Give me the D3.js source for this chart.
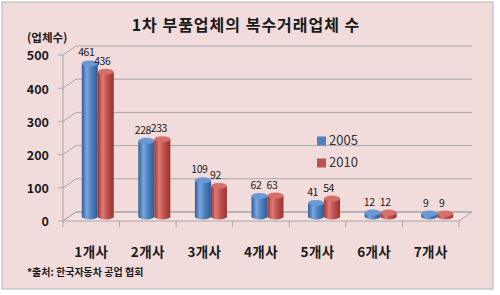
<!DOCTYPE html>
<html><head><meta charset="utf-8">
<script src="https://cdn.jsdelivr.net/npm/d3@7"></script>
<style>html,body{margin:0;padding:0;background:#fff}</style>
</head><body>
<svg id="c" width="500" height="295"></svg>
<script>
const categories = ["1개사","2개사","3개사","4개사","5개사","6개사","7개사"];
const series = ["2005","2010"];
const values2005 = [461,228,109,62,41,12,9];
const values2010 = [436,233,92,63,54,12,9];
const yTicks = [0,100,200,300,400,500];
const title = "1차 부품업체의 복수거래업체 수";
const yTitle = "(업체수)";
const source = "*출처: 한국자동차 공업 협회";

const font = "'Noto Sans CJK KR','Noto Sans',sans-serif";
const svg = d3.select("#c");
const DX = 13, DY = -9;
const x0 = 63, x1 = 459;
const x = d3.scaleBand().domain(categories).range([x0, x1]);
const y = d3.scaleLinear().domain([0,500]).range([221,55]);
const groupW = 32;
const xs = d3.scaleBand().domain(series).range([0, groupW]);
const colors = {
  "2005": {dark:"#2f5c97", mid:"#4f81bd", light:"#7aa6de", top:"#6a98d4"},
  "2010": {dark:"#9a3431", mid:"#c0504d", light:"#e07b77", top:"#d4706c"}
};

// background
svg.append("rect").attr("x",2).attr("y",2).attr("width",491).attr("height",287)
  .attr("fill","#f2dcdb").attr("stroke","#bfbfbf").attr("stroke-width",1.2);

// gradients
const defs = svg.append("defs");
series.forEach(s=>{
  const g = defs.append("linearGradient").attr("id","g"+s).attr("x1","0").attr("x2","1").attr("y1","0").attr("y2","0");
  g.append("stop").attr("offset","0%").attr("stop-color",colors[s].dark);
  g.append("stop").attr("offset","30%").attr("stop-color",colors[s].light);
  g.append("stop").attr("offset","60%").attr("stop-color",colors[s].mid);
  g.append("stop").attr("offset","100%").attr("stop-color",colors[s].dark);
});

// floor
const y0 = y(0);
svg.append("path")
  .attr("d",`M${x0},${y0}L${x1},${y0}L${x1+DX},${y0+DY}L${x0+DX},${y0+DY}Z`)
  .attr("fill","#f4e2e1").attr("stroke","#a6a6a6").attr("stroke-width",1);

// gridlines (left wall diagonal + back wall)
const grid = svg.append("g").attr("stroke","#a6a6a6").attr("fill","none").attr("stroke-width",1);
yTicks.forEach(t=>{
  const yy = y(t);
  grid.append("path").attr("d",`M${x0},${yy}L${x0+DX},${yy+DY}L${x1+DX},${yy+DY}`);
});
grid.append("line").attr("x1",x0).attr("x2",x0).attr("y1",y(500)).attr("y2",y0);
yTicks.forEach(t=>{
  grid.append("line").attr("x1",x0-5).attr("x2",x0).attr("y1",y(t)).attr("y2",y(t));
});
categories.forEach((c,i)=>{
  const xx = x(c)+x.bandwidth();
  grid.append("line").attr("x1",xx).attr("x2",xx).attr("y1",y0).attr("y2",y0+6);
});
grid.append("line").attr("x1",x0).attr("x2",x0).attr("y1",y0).attr("y2",y0+6);

// y tick labels
svg.append("g").selectAll("text").data(yTicks).join("text")
  .attr("x",49).attr("y",d=>y(d)+2).attr("text-anchor","end").attr("dominant-baseline","middle")
  .attr("font-family",font).attr("font-weight","bold").attr("font-size",12.5).attr("fill","#1a1a1a")
  .text(d=>d);

// bars (cylinders)
const ry = 3;
const bars = svg.append("g");
const labels = svg.append("g");
const data = [];
categories.forEach((c,i)=>{
  data.push({c, s:"2005", v:values2005[i]});
  data.push({c, s:"2010", v:values2010[i]});
});
data.forEach(d=>{
  const bx = x(d.c) + (x.bandwidth()-groupW)/2 + DX/2 + xs(d.s);
  const w = xs.bandwidth();
  const base = y(0) + DY/2;
  const top = y(d.v) + DY/2;
  const rx = w/2;
  const g = bars.append("g");
  g.append("path")
    .attr("d",`M${bx},${top}L${bx},${base}A${rx},${ry} 0 0 0 ${bx+w},${base}L${bx+w},${top}Z`)
    .attr("fill",`url(#g${d.s})`);
  g.append("ellipse").attr("cx",bx+rx).attr("cy",top).attr("rx",rx).attr("ry",ry)
    .attr("fill",colors[d.s].top);
  labels.append("text").attr("x",bx+rx-3.5).attr("y",top-ry-4).attr("text-anchor","middle")
    .attr("font-family",font).attr("font-size",10.5).attr("letter-spacing",-0.4)
    .attr("fill","#1a1a1a").text(d.v);
});

// category labels
svg.append("g").selectAll("text").data(categories).join("text")
  .attr("x",d=>x(d)+x.bandwidth()/2).attr("y",257).attr("text-anchor","middle")
  .attr("font-family",font).attr("font-weight","bold").attr("font-size",13.5).attr("letter-spacing",0.4)
  .attr("fill","#1a1a1a").text(d=>d);

// title
svg.append("text").attr("x",246).attr("y",31).attr("text-anchor","middle")
  .attr("font-family",font).attr("font-weight","bold").attr("font-size",16).attr("letter-spacing",1)
  .attr("fill","#1a1a1a").text(title);
svg.append("text").attr("x",27).attr("y",42)
  .attr("font-family",font).attr("font-weight","bold").attr("font-size",11.5).attr("fill","#1a1a1a").text(yTitle);
svg.append("text").attr("x",27).attr("y",276)
  .attr("font-family",font).attr("font-weight","bold").attr("font-size",10).attr("fill","#1a1a1a").text(source);

// legend
const lg = svg.append("g");
series.forEach((s,i)=>{
  const ly = 141 + i*22;
  lg.append("rect").attr("x",317).attr("y",ly-4.5).attr("width",9).attr("height",9).attr("fill",colors[s].mid);
  lg.append("text").attr("x",329).attr("y",ly+0.5).attr("dominant-baseline","middle")
    .attr("font-family",font).attr("font-size",13).attr("fill","#333").text(s);
});
</script>
</body></html>
